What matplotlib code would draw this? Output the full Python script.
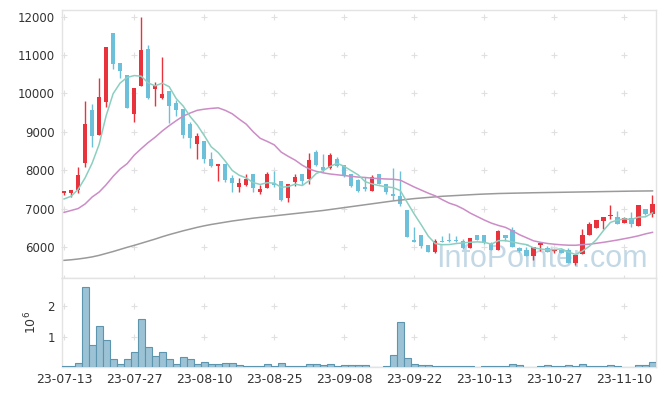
import numpy as np
import matplotlib.pyplot as plt

# x axis labels (bar index -> date)
tick_pos = [0, 10, 20, 30, 40, 50, 60, 70, 80]
tick_labels = ['23-07-13', '23-07-27', '23-08-10', '23-08-25', '23-09-08',
               '23-09-22', '23-10-13', '23-10-27', '23-11-10']

# daily prices
opens = [7400, 7410, 7480, 8200, 9570, 8930, 9780, 11580, 10790, 10470,
         9470, 10200, 11160, 10110, 9880, 10060, 9750, 9590, 9200, 8690,
         8760, 8290, 8110, 8160, 7800, 7560, 7620, 7900, 7430, 7540,
         7670, 7720, 7280, 7700, 7900, 7770, 8470, 8090, 8060, 8280,
         8130, 7890, 7740, 7560, 7460, 7900, 7650, 7380, 7340, 6960,
         6170, 6320, 6050, 5870, 6160, 6190, 6180, 6150, 5970, 6320,
         6300, 6110, 5930, 6310, 6430, 5970, 5930, 5760, 6050, 5980,
         5900, 5930, 5910, 5580, 5810, 6320, 6500, 6680, 6800, 6780,
         6630, 6760, 6550, 7000, 6870]
highs = [7470, 7490, 8090, 9800, 9720, 10400, 11210, 11580, 10790, 10470,
         10150, 11990, 11260, 10290, 10940, 10060, 9830, 9600, 9260, 8970,
         8760, 8480, 8160, 8160, 7870, 7800, 7890, 7900, 7610, 7960,
         7980, 7720, 7640, 7890, 7900, 8460, 8520, 8410, 8440, 8350,
         8130, 7890, 7780, 7810, 7870, 7900, 7650, 8070, 7970, 6960,
         6520, 6320, 6050, 6200, 6290, 6370, 6280, 6200, 6230, 6320,
         6300, 6130, 6450, 6310, 6520, 6010, 6000, 6000, 6130, 6030,
         5940, 5950, 5960, 5780, 6460, 6640, 6700, 6780, 7100, 6930,
         6780, 6910, 7090, 7000, 7350]
lows = [7350, 7290, 7410, 8090, 8600, 8930, 9650, 10640, 10400, 9630,
        9250, 10200, 9850, 9660, 9850, 9240, 9420, 8830, 8580, 8290,
        8180, 8090, 7720, 7700, 7430, 7430, 7600, 7430, 7390, 7540,
        7550, 7190, 7160, 7590, 7610, 7640, 8100, 7960, 8030, 8090,
        7810, 7570, 7420, 7460, 7460, 7640, 7370, 7220, 7070, 6260,
        6130, 5980, 5870, 5830, 6120, 6140, 6140, 5950, 5970, 6170,
        6080, 5910, 5930, 6150, 6000, 5880, 5760, 5650, 5890, 5860,
        5840, 5840, 5580, 5540, 5810, 6320, 6500, 6480, 6740, 6590,
        6620, 6520, 6550, 6840, 6770]
closes = [7450, 7480, 7880, 9200, 8900, 9900, 11210, 10760, 10590, 9630,
          10140, 11130, 9880, 10210, 9980, 9680, 9580, 8910, 8840, 8890,
          8300, 8110, 8150, 7740, 7670, 7670, 7760, 7540, 7500, 7900,
          7610, 7220, 7630, 7820, 7720, 8260, 8140, 8000, 8390, 8110,
          7850, 7580, 7450, 7500, 7820, 7640, 7420, 7340, 7110, 6260,
          6130, 6020, 5870, 6150, 6120, 6150, 6150, 5960, 6230, 6170,
          6090, 5910, 6420, 6230, 6000, 5890, 5760, 6000, 6090, 5870,
          5940, 5850, 5580, 5780, 6300, 6590, 6700, 6770, 6840, 6590,
          6760, 6610, 7090, 6870, 7110]

# volume in millions
volumes = [0.03, 0.03, 0.13, 2.65, 0.73, 1.35, 0.89, 0.27, 0.11, 0.27,
           0.50, 1.60, 0.66, 0.37, 0.50, 0.27, 0.11, 0.34, 0.27, 0.11,
           0.17, 0.11, 0.11, 0.14, 0.14, 0.07, 0.03, 0.03, 0.03, 0.11,
           0.03, 0.14, 0.03, 0.03, 0.03, 0.10, 0.10, 0.07, 0.10, 0.03,
           0.08, 0.08, 0.08, 0.08, 0.00, 0.00, 0.03, 0.40, 1.50, 0.29,
           0.10, 0.07, 0.07, 0.03, 0.03, 0.03, 0.03, 0.03, 0.03, 0.00,
           0.03, 0.03, 0.03, 0.03, 0.10, 0.07, 0.00, 0.00, 0.03, 0.07,
           0.03, 0.03, 0.07, 0.03, 0.10, 0.03, 0.03, 0.03, 0.07, 0.03,
           0.00, 0.00, 0.07, 0.07, 0.16]

# moving averages (5, 20, 120 day)
ma5 = [7250, 7320, 7500, 7800, 8182, 8672, 9418, 9994, 10272, 10418,
       10466, 10450, 10274, 10198, 10268, 10176, 9866, 9672, 9398, 9180,
       8904, 8610, 8458, 8238, 7994, 7868, 7798, 7676, 7628, 7674,
       7662, 7554, 7572, 7636, 7600, 7730, 7914, 7988, 8102, 8180,
       8098, 7986, 7876, 7698, 7640, 7598, 7566, 7544, 7466, 7154,
       6852, 6572, 6278, 6086, 6058, 6062, 6088, 6106, 6122, 6132,
       6120, 6072, 6164, 6164, 6130, 6090, 6060, 5976, 5948, 5922,
       5932, 5950, 5866, 5804, 5890, 6020, 6190, 6428, 6640, 6698,
       6732, 6714, 6778, 6784, 6888]
ma20 = [6900, 6950, 7000, 7120, 7300, 7430, 7620, 7840, 8030, 8170,
        8390, 8560, 8720, 8860, 9020, 9160, 9290, 9410, 9490, 9560,
        9590, 9610, 9625, 9560, 9470, 9330, 9200, 9000, 8830, 8750,
        8660, 8470, 8360, 8260, 8130, 8030, 7970, 7930, 7900, 7880,
        7860, 7840, 7820, 7810, 7790, 7780, 7770, 7765, 7740, 7650,
        7560, 7480, 7400, 7330, 7230, 7140, 7080, 6990, 6880, 6790,
        6700, 6620, 6560, 6510, 6420, 6320, 6240, 6160, 6120, 6090,
        6070, 6055, 6045, 6043, 6060, 6070, 6095, 6120, 6150, 6180,
        6215, 6250, 6290, 6340, 6380]
ma120 = [5650, 5665, 5685, 5710, 5740, 5780, 5830, 5880, 5935, 5990,
         6040, 6095, 6150, 6205, 6265, 6320, 6370, 6420, 6465, 6510,
         6550, 6585, 6615, 6645, 6675, 6700, 6725, 6750, 6770, 6790,
         6810, 6830, 6850, 6870, 6890, 6910, 6930, 6950, 6975, 7000,
         7025, 7050, 7075, 7100, 7125, 7150, 7175, 7200, 7220, 7240,
         7260, 7275, 7290, 7305, 7320, 7330, 7340, 7350, 7360, 7370,
         7378, 7385, 7392, 7396, 7400, 7404, 7408, 7412, 7415, 7418,
         7421, 7424, 7427, 7430, 7433, 7436, 7439, 7442, 7445, 7448,
         7451, 7454, 7456, 7458, 7460]

x = np.arange(len(closes))
o = np.array(opens)
c = np.array(closes)
up = c >= o
up_col = '#e8323c'
down_col = '#6cc0da'
colors = np.where(up, up_col, down_col)
text_col = '#333333'
grid_col = '#e0e0e0'

fig = plt.figure(figsize=(6.65, 3.96), dpi=100)
ax = fig.add_axes([62/665, 1-278/396, 594/665, 268/396])
axv = fig.add_axes([62/665, 1-367/396, 594/665, 89/396], sharex=ax)

# watermark
ax.text(0.986, 0.04, 'InfoPointer.com', transform=ax.transAxes, ha='right',
        va='baseline', fontsize=22, family='Liberation Sans',
        color='#c3d8e5', zorder=0)

# candles
ax.vlines(x, lows, highs, colors=colors, linewidth=1.0, zorder=2)
body = np.maximum(np.abs(c - o), 25)
ax.bar(x, body, bottom=np.minimum(o, c), width=0.6, color=colors,
       linewidth=0, zorder=3)

# moving averages
ax.plot(x, ma120, color='#9a9a9a', linewidth=1.1, zorder=4)
ax.plot(x, ma20, color='#cc8cc6', linewidth=1.1, zorder=4)
ax.plot(x, ma5, color='#8ccfc0', linewidth=1.1, zorder=4)

ax.set_ylim(5190, 12175)
ax.set_xlim(-0.3, 84.5)
yt = [6000, 7000, 8000, 9000, 10000, 11000, 12000]
ax.set_yticks(yt)
ax.tick_params(axis='y', length=0, pad=5, labelsize=8.5, labelcolor=text_col)
ax.tick_params(axis='x', length=0, labelbottom=False)
ax.set_xticks(tick_pos)

# grid crosses
gx, gy = np.meshgrid(tick_pos, yt + [5190])
ax.scatter(gx.ravel(), gy.ravel(), marker='+', s=18, color=grid_col,
           linewidth=0.8, zorder=1, clip_on=False)

# volume
axv.bar(x, volumes, width=1.0, color='#9cc3d5', edgecolor='#5d94ae',
        linewidth=0.8, zorder=3)
axv.set_ylim(0, 2.94)
axv.set_yticks([1, 2])
axv.set_yticklabels(['1', '2'])
axv.set_xticks(tick_pos)
axv.set_xticklabels(tick_labels)
axv.tick_params(axis='y', length=0, pad=5, labelsize=8.5, labelcolor=text_col)
axv.tick_params(axis='x', length=0, pad=4, labelsize=9, labelcolor=text_col)
axv.set_ylabel(r'$10^6$', fontsize=9, color=text_col, labelpad=6)
vx, vy = np.meshgrid(tick_pos, [1, 2])
axv.scatter(vx.ravel(), vy.ravel(), marker='+', s=18, color=grid_col,
            linewidth=0.8, zorder=1)

for a in (ax, axv):
    for sp in a.spines.values():
        sp.set_color('#e3e3e3')
        sp.set_linewidth(1.0)

fig.savefig('out.png', dpi=100)
